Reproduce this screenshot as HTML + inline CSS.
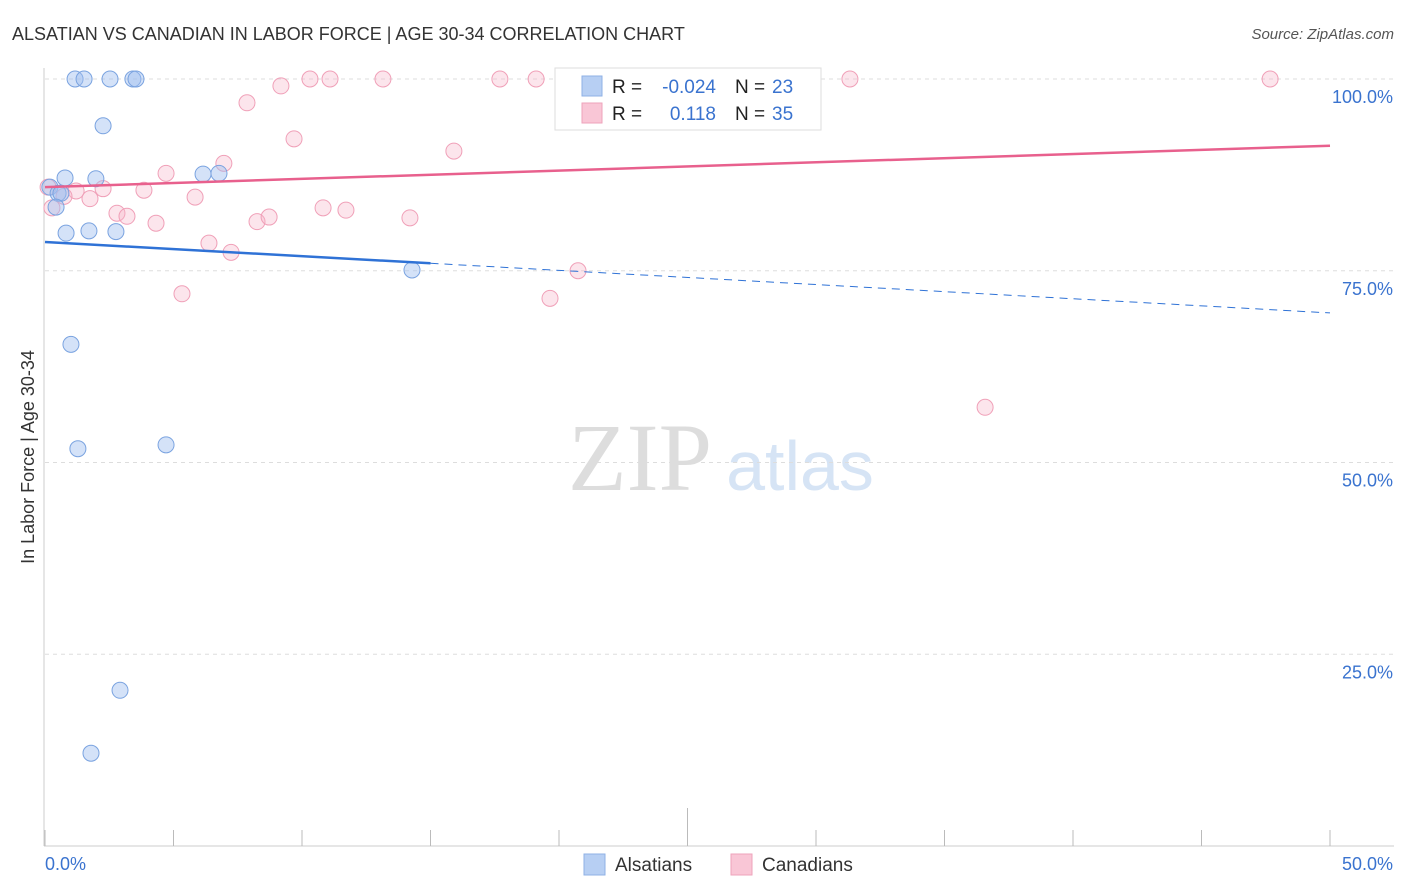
<!DOCTYPE html>
<html><head><meta charset="utf-8"><style>
body{margin:0;background:#fff;font-family:"Liberation Sans",sans-serif;}
svg{display:block}
</style></head><body>
<svg id="chart" width="1406" height="892">
<text x="12" y="40" font-size="18" fill="#333">ALSATIAN VS CANADIAN IN LABOR FORCE | AGE 30-34 CORRELATION CHART</text>
<text x="1394" y="39" font-size="15" fill="#555" font-style="italic" text-anchor="end">Source: ZipAtlas.com</text>
<text transform="translate(34,457) rotate(-90)" font-size="18" fill="#333" text-anchor="middle">In Labor Force | Age 30-34</text>
<text x="640" y="490" font-size="96" fill="#ddd" font-family="Liberation Serif,serif" text-anchor="middle">ZIP</text>
<text x="800" y="490" font-size="70" fill="#d6e4f5" text-anchor="middle">atlas</text>
<g id="grid"></g><g id="marks"></g>
<g>
<rect x="555" y="68" width="266" height="62" fill="#fff" stroke="#ddd"/>
<rect x="582" y="76" width="20" height="20" fill="#b7cff3" stroke="#8fb1e6"/>
<rect x="582" y="103" width="20" height="20" fill="#f9c6d6" stroke="#eea3bb"/>
<text x="612" y="93" font-size="19" fill="#222">R = </text><text x="716" y="93" font-size="19" fill="#3a73cf" text-anchor="end">-0.024</text>
<text x="735" y="93" font-size="19" fill="#222">N = </text><text x="772" y="93" font-size="19" fill="#3a73cf">23</text>
<text x="612" y="120" font-size="19" fill="#222">R = </text><text x="716" y="120" font-size="19" fill="#3a73cf" text-anchor="end">0.118</text>
<text x="735" y="120" font-size="19" fill="#222">N = </text><text x="772" y="120" font-size="19" fill="#3a73cf">35</text>
</g>
<g>
<rect x="584" y="854" width="21" height="21" fill="#b7cff3" stroke="#8fb1e6"/>
<text x="615" y="871" font-size="19" fill="#333">Alsatians</text>
<rect x="731" y="854" width="21" height="21" fill="#f9c6d6" stroke="#eea3bb"/>
<text x="762" y="871" font-size="19" fill="#333">Canadians</text>
</g>
</svg>
<script>
const blueX=[1.17,1.52,2.53,3.42,3.54,2.26,0.78,1.98,0.19,0.51,0.62,0.43,0.82,1.71,2.76,6.15,6.77,14.28,1.01,1.28,4.71,2.92,1.79];
const blueY=[100,100,100,100,100,93.9,87.1,87.0,85.9,85.1,85.1,83.3,79.9,80.2,80.1,87.6,87.7,75.1,65.4,51.8,52.3,20.3,12.1];
const pinkX=[9.18,10.31,11.09,13.15,17.70,19.11,31.32,47.67,7.86,9.69,15.91,6.96,4.71,0.12,1.21,2.26,3.85,1.75,0.74,5.84,2.80,3.19,4.32,8.25,8.72,10.82,11.71,14.20,6.38,7.24,5.33,20.74,19.65,36.58,0.27];
const pinkY=[99.1,100,100,100,100,100,100,100,96.9,92.2,90.6,89.0,87.7,85.9,85.4,85.7,85.5,84.4,84.7,84.6,82.5,82.1,81.2,81.4,82.0,83.2,82.9,81.9,78.6,77.4,72.0,75.0,71.4,57.2,83.2];
const blueTrend=[78.75,69.5];
const pinkTrend=[85.9,91.3];
const yTicks=[100,75,50,25];
const NS="http://www.w3.org/2000/svg";
const sx=v=>45+v/50*1285, sy=v=>846-v*7.67;
function mk(t,a,p){const e=document.createElementNS(NS,t);for(const k in a)e.setAttribute(k,a[k]);p.appendChild(e);return e;}
const g=document.getElementById('grid'), m=document.getElementById('marks');
yTicks.forEach(t=>{
  const l=mk('line',{x1:45,x2:1394,y1:sy(t),y2:sy(t),stroke:'#ddd','stroke-dasharray':'4,4'},g);
  
  
  const tx=mk('text',{x:1393,y:sy(t)+24,'font-size':18,fill:'#3a73cf','text-anchor':'end'},g);
  tx.textContent=t.toFixed(1)+'%';
  
  
});
mk('line',{x1:44,x2:44,y1:68,y2:846,stroke:'#ccc'},g);
mk('line',{x1:44,x2:1394,y1:846,y2:846,stroke:'#ccc'},g);
for(let i=0;i<=10;i++){mk('line',{x1:sx(i*5),x2:sx(i*5),y1:i==5?808:830,y2:846,stroke:'#bbb'},g);}
const x0=mk('text',{x:45,y:870,'font-size':18,fill:'#3a73cf'},g);x0.textContent='0.0%';


const x1=mk('text',{x:1393,y:870,'font-size':18,fill:'#3a73cf','text-anchor':'end'},g);x1.textContent='50.0%';


pinkX.forEach((x,i)=>{
  const c=mk('circle',{cx:sx(x),cy:sy(pinkY[i]),r:8,fill:'rgba(247,180,200,0.35)',stroke:'#f0a0b8','stroke-width':1},m);
  
  
});
blueX.forEach((x,i)=>{
  const c=mk('circle',{cx:sx(x),cy:sy(blueY[i]),r:8,fill:'rgba(160,190,240,0.45)',stroke:'#7aa3e0','stroke-width':1},m);
  
  
});
const bAt=x=>blueTrend[0]+(blueTrend[1]-blueTrend[0])*x/50;
const bl=mk('line',{x1:sx(0),y1:sy(bAt(0)),x2:sx(15),y2:sy(bAt(15)),stroke:'#2f72d6','stroke-width':2.5},m);


const bd=mk('line',{x1:sx(15),y1:sy(bAt(15)),x2:sx(50),y2:sy(bAt(50)),stroke:'#2f72d6','stroke-width':1,'stroke-dasharray':'8,6'},m);


const pl=mk('line',{x1:sx(0),y1:sy(pinkTrend[0]),x2:sx(50),y2:sy(pinkTrend[1]),stroke:'#e8608d','stroke-width':2.5},m);


</script>
</body></html>
